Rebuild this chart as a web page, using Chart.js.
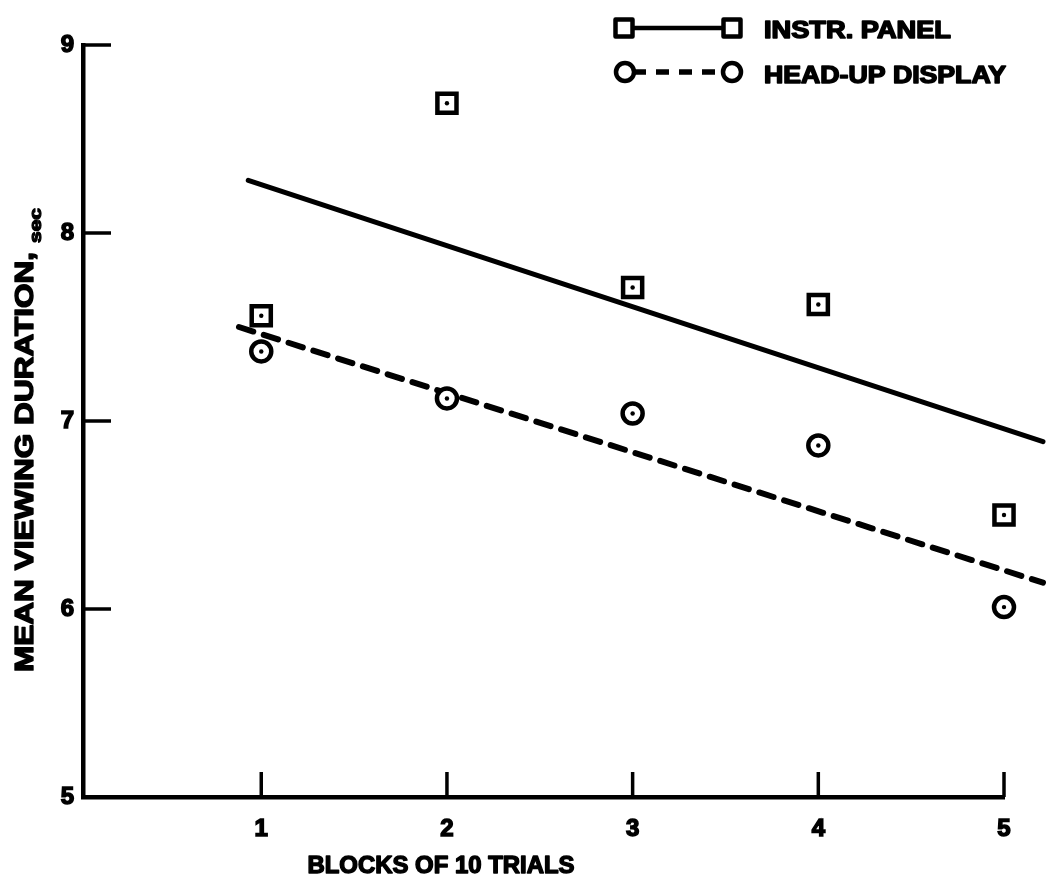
<!DOCTYPE html>
<html><head><meta charset="utf-8">
<script src="https://cdn.jsdelivr.net/npm/chart.js@4.4.1/dist/chart.umd.min.js"></script>
<style>html,body{margin:0;padding:0;background:#fff;}#wrap{width:1049px;height:886px;}</style>
</head><body><div id="wrap"><canvas id="c" width="1049" height="886"></canvas></div>
<script>
// ---- data ----
const blocks = [1, 2, 3, 4, 5];
const yTickValues = [5, 6, 7, 8, 9];
const instrPanel = [7.56, 8.69, 7.71, 7.62, 6.50];
const headUp = [7.37, 7.12, 7.04, 6.87, 6.01];
const instrFitX = [0.93, 5.21];
const instrFitY = [8.28, 6.89];
const headUpFitX = [0.88, 5.21];
const headUpFitY = [7.50, 6.14];
const seriesNames = ['INSTR. PANEL', 'HEAD-UP DISPLAY'];
const xTitle = 'BLOCKS OF 10 TRIALS';
const yTitle = 'MEAN VIEWING DURATION,';
const yUnit = 'sec';

const FONT = "'Liberation Sans', Arial, Helvetica, sans-serif";
const INK = '#000';

function pts(xs, ys) { return xs.map((x, i) => ({ x: x, y: ys[i] })); }

function fitText(ctx, text, x, y, targetW, font, align, stroke) {
  ctx.save();
  ctx.font = font;
  const w = ctx.measureText(text).width;
  const s = targetW / w;
  ctx.translate(x, y);
  ctx.scale(s, 1);
  ctx.textAlign = 'left';
  ctx.textBaseline = 'alphabetic';
  ctx.fillStyle = INK;
  ctx.strokeStyle = INK;
  ctx.lineWidth = stroke || 1.4;
  ctx.lineJoin = 'round';
  const ox = align === 'center' ? -w / 2 : 0;
  ctx.fillText(text, ox, 0);
  ctx.strokeText(text, ox, 0);
  ctx.restore();
}

function drawSquare(ctx, x, y, side) {
  ctx.save();
  ctx.lineWidth = 4.5; ctx.strokeStyle = INK; ctx.fillStyle = '#fff'; ctx.lineJoin = 'round';
  ctx.beginPath(); ctx.rect(x - side / 2, y - side / 2, side, side); ctx.fill(); ctx.stroke();
  ctx.restore();
}
function drawCircle(ctx, x, y, r) {
  ctx.save();
  ctx.lineWidth = 4.5; ctx.strokeStyle = INK; ctx.fillStyle = '#fff';
  ctx.beginPath(); ctx.arc(x, y, r, 0, Math.PI * 2); ctx.fill(); ctx.stroke();
  ctx.restore();
}

const decor = {
  id: 'decor',
  afterDraw(chart) {
    const ctx = chart.ctx;
    const xs = chart.scales.x, ys = chart.scales.y;
    const area = chart.chartArea;
    ctx.save();
    ctx.strokeStyle = INK; ctx.lineWidth = 3.5; ctx.lineCap = 'butt';
    // inward tick marks
    yTickValues.forEach(v => {
      if (v === yTickValues[0]) return;
      const y = ys.getPixelForValue(v);
      ctx.beginPath(); ctx.moveTo(area.left, y); ctx.lineTo(area.left + 28, y); ctx.stroke();
    });
    blocks.forEach(v => {
      const x = xs.getPixelForValue(v);
      ctx.beginPath(); ctx.moveTo(x, area.bottom); ctx.lineTo(x, area.bottom - 25); ctx.stroke();
    });
    ctx.restore();

    // axis titles
    fitText(ctx, xTitle, 441, 873, 267, 'bold 23px ' + FONT, 'center', 1.4);
    ctx.save();
    ctx.translate(33, 672);
    ctx.rotate(-Math.PI / 2);
    fitText(ctx, yTitle, 0, 0, 420, 'bold 26px ' + FONT, 'left', 1.4);
    ctx.restore();
    ctx.save();
    ctx.translate(41, 243);
    ctx.rotate(-Math.PI / 2);
    fitText(ctx, yUnit, 0, 0, 35, 'bold 16px ' + FONT, 'left', 1.2);
    ctx.restore();

    // legend
    ctx.save();
    ctx.strokeStyle = INK;
    ctx.lineWidth = 4.5;
    ctx.beginPath(); ctx.moveTo(630, 28); ctx.lineTo(725, 28); ctx.stroke();
    drawSquare(ctx, 624, 28, 17);
    drawSquare(ctx, 732, 28, 17);
    ctx.lineWidth = 5.5;
    ctx.setLineDash([13, 10]);
    ctx.beginPath(); ctx.moveTo(633, 72); ctx.lineTo(724, 72); ctx.stroke();
    ctx.setLineDash([]);
    drawCircle(ctx, 625, 72, 9);
    drawCircle(ctx, 732, 72, 9);
    ctx.restore();
    fitText(ctx, seriesNames[0], 764, 38, 187, 'bold 23px ' + FONT, 'left', 1.5);
    fitText(ctx, seriesNames[1], 764, 83, 242, 'bold 23px ' + FONT, 'left', 1.5);
  }
};

const tickFont = { family: FONT, size: 24, weight: 'bold' };

const chart = new Chart(document.getElementById('c'), {
  type: 'scatter',
  data: {
    datasets: [
      { label: 'ip-dot', data: pts(blocks, instrPanel), showLine: false, pointRadius: 2.2, pointHoverRadius: 2.2,
        pointBackgroundColor: INK, pointBorderWidth: 0, clip: false, order: 0 },
      { label: 'hud-dot', data: pts(blocks, headUp), showLine: false, pointRadius: 2.2, pointHoverRadius: 2.2,
        pointBackgroundColor: INK, pointBorderWidth: 0, clip: false, order: 0 },
      { label: seriesNames[0], data: pts(blocks, instrPanel), showLine: false, pointStyle: 'rect',
        pointRadius: 13.5, pointHoverRadius: 13.5, pointBorderWidth: 4.5, pointBorderColor: INK,
        pointBackgroundColor: '#fff', clip: false, order: 1 },
      { label: seriesNames[1], data: pts(blocks, headUp), showLine: false, pointStyle: 'circle',
        pointRadius: 10, pointHoverRadius: 10, pointBorderWidth: 4.5, pointBorderColor: INK,
        pointBackgroundColor: '#fff', clip: false, order: 1 },
      { label: 'ip-fit', data: pts(instrFitX, instrFitY), showLine: true, pointRadius: 0,
        borderColor: INK, borderWidth: 5, clip: false, order: 2, borderCapStyle: 'round' },
      { label: 'hud-fit', data: pts(headUpFitX, headUpFitY), showLine: true, pointRadius: 0,
        borderColor: INK, borderWidth: 6, borderDash: [15, 11], clip: false, order: 2, borderCapStyle: 'round' }
    ]
  },
  options: {
    responsive: false,
    animation: false,
    devicePixelRatio: 1,
    layout: { padding: { top: 45, right: 45, left: 0, bottom: 0 } },
    plugins: { legend: { display: false }, tooltip: { enabled: false }, title: { display: false } },
    scales: {
      x: {
        type: 'linear', min: 0.04, max: 5,
        afterBuildTicks: s => { s.ticks = blocks.map(v => ({ value: v })); },
        afterFit: s => { s.height = 89; },
        grid: { display: false },
        border: { display: true, color: INK, width: 4.5 },
        ticks: { color: INK, padding: 10, maxRotation: 0, font: tickFont,
                 textStrokeColor: INK, textStrokeWidth: 1.5, callback: v => String(v) }
      },
      y: {
        type: 'linear', min: 5, max: 9,
        afterBuildTicks: s => { s.ticks = yTickValues.map(v => ({ value: v })); },
        afterFit: s => { s.width = 83; },
        grid: { display: false },
        border: { display: true, color: INK, width: 4.5 },
        ticks: { color: INK, padding: 1, font: tickFont,
                 textStrokeColor: INK, textStrokeWidth: 1.5, callback: v => String(v) }
      }
    }
  },
  plugins: [decor]
});
</script>
</body></html>
